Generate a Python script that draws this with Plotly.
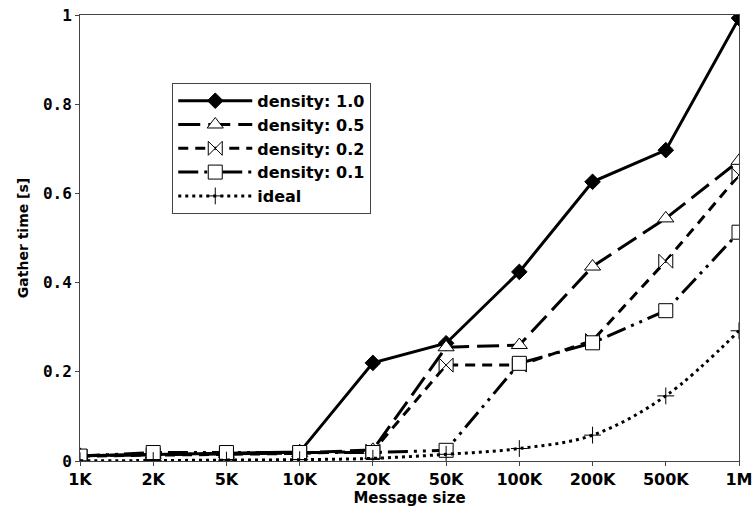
import plotly.graph_objects as go

# Message sizes and measured gather times [s]
sizes = ["1K", "2K", "5K", "10K", "20K", "50K", "100K", "200K", "500K", "1M"]
density_10 = [0.012, 0.015, 0.017, 0.020, 0.220, 0.264, 0.424, 0.626, 0.697, 0.993]
density_05 = [0.012, 0.014, 0.016, 0.018, 0.025, 0.255, 0.260, 0.436, 0.544, 0.673]
density_02 = [0.011, 0.013, 0.015, 0.017, 0.022, 0.215, 0.215, 0.270, 0.448, 0.641]
density_01 = [0.011, 0.019, 0.019, 0.019, 0.019, 0.024, 0.219, 0.265, 0.337, 0.513]
ideal = [0.0005, 0.001, 0.002, 0.003, 0.006, 0.015, 0.028, 0.058, 0.146, 0.292]

y_ticks = [0, 0.2, 0.4, 0.6, 0.8, 1]
y_tick_text = ["0", "0.2", "0.4", "0.6", "0.8", "1"]

xpos = list(range(len(sizes)))

series = [
    ("density: 1.0", density_10, "solid", "diamond", 12, "black", "linear"),
    ("density: 0.5", density_05, "22px,8px", "triangle-up", 14, "white", "linear"),
    ("density: 0.2", density_02, "10px,7px", "bowtie", 14, "white", "linear"),
    ("density: 0.1", density_01, "20px,6px,3px,6px,3px,6px", "square", 14, "white", "linear"),
    ("ideal", ideal, "3px,4px", "cross-thin", 12, "black", "spline"),
]

fig = go.Figure()
for name, vals, dash, sym, size, fill, shape in series:
    fig.add_trace(go.Scatter(
        x=xpos, y=vals, name=name, mode="lines+markers",
        line=dict(color="black", width=3, dash=dash, shape=shape),
        marker=dict(symbol=sym, size=size, color=fill,
                    line=dict(color="black", width=1)),
    ))

fig.update_layout(
    width=752, height=512,
    margin=dict(l=80, r=13, t=15, b=51),
    plot_bgcolor="white", paper_bgcolor="white",
    font=dict(family="DejaVu Sans", color="black"),
    legend=dict(
        x=0.14, y=0.848, xanchor="left", yanchor="top",
        bgcolor="white", bordercolor="#444", borderwidth=1,
        font=dict(family="DejaVu Sans", size=16, color="black", weight="bold"),
        tracegroupgap=0, itemwidth=74,
    ),
    xaxis=dict(
        range=[0, 9], tickvals=xpos, ticktext=sizes,
        showgrid=False, zeroline=False, automargin=False,
        ticklabeloverflow="allow",
        showline=True, linecolor="#444", linewidth=1, mirror=True,
        ticks="outside", ticklen=4, tickcolor="#444",
        tickfont=dict(family="DejaVu Sans", size=16, weight="bold"),
        title=dict(text="Message size", standoff=4,
                   font=dict(family="DejaVu Sans", size=15, weight="bold")),
    ),
    yaxis=dict(
        range=[0, 1], tickvals=y_ticks, ticktext=y_tick_text,
        showgrid=False, zeroline=False, automargin=False,
        ticklabeloverflow="allow",
        showline=True, linecolor="#444", linewidth=1, mirror=True,
        ticks="outside", ticklen=4, tickcolor="#444",
        tickfont=dict(family="DejaVu Sans Mono", size=16, weight="bold"),
        title=dict(text="Gather time [s]", standoff=10,
                   font=dict(family="DejaVu Sans", size=14, weight="bold")),
    ),
)

fig.write_html("out.html")
